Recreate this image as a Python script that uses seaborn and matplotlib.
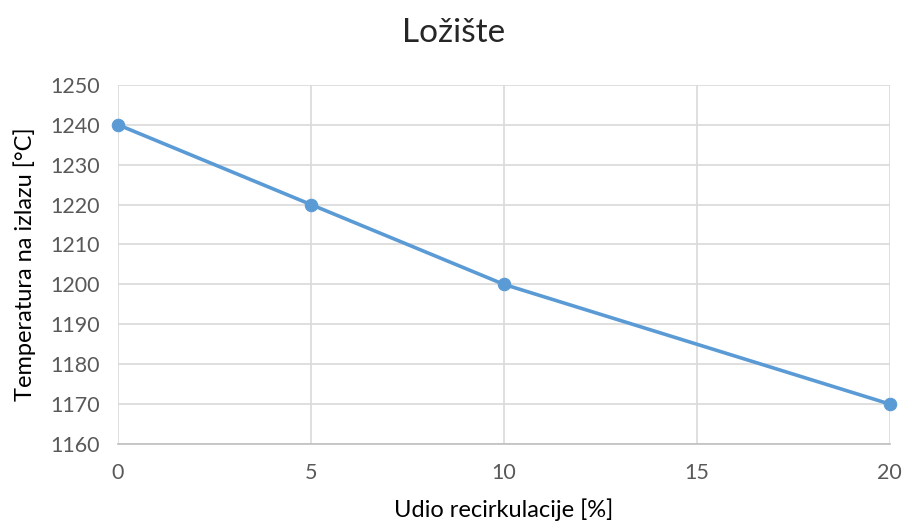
import matplotlib
matplotlib.use("Agg")
import matplotlib.pyplot as plt
import seaborn as sns
import pandas as pd

recirculation = [0, 5, 10, 20]
temperature = [1240, 1220, 1200, 1170]
x_ticks = [0, 5, 10, 15, 20]
y_ticks = [1160, 1170, 1180, 1190, 1200, 1210, 1220, 1230, 1240, 1250]

sns.set_style("white")
plt.rcParams['font.family'] = ['Lato', 'DejaVu Sans']

df = pd.DataFrame({"x": recirculation, "y": temperature})

fig = plt.figure(figsize=(9.08, 5.27), dpi=100)
ax = fig.add_axes([0.130, 0.1575, 0.850, 0.6815])

color = "#5B9BD5"
sns.lineplot(data=df, x="x", y="y", ax=ax, color=color, linewidth=2.6,
             marker="o", markersize=9, markeredgecolor=color, markerfacecolor=color, zorder=3, clip_on=False)

ax.set_xlim(0, 20)
ax.set_ylim(1160, 1250)
ax.set_xticks(x_ticks)
ax.set_yticks(y_ticks)
ax.grid(True, color="#D9D9D9", linewidth=1.2)
ax.set_axisbelow(True)
for s in ["top", "right", "left"]:
    ax.spines[s].set_visible(False)
ax.spines["bottom"].set_color("#BFBFBF")
ax.spines["bottom"].set_linewidth(1.2)
ax.tick_params(axis="both", length=0, labelsize=15.5, labelcolor="#595959")
ax.tick_params(axis="y", pad=13)
ax.tick_params(axis="x", pad=14)

ax.set_xlabel("Udio recirkulacije [%]", fontsize=17, color="black", labelpad=11)
ax.set_ylabel("Temperatura na izlazu [°C]", fontsize=17, color="black", labelpad=10)
fig.suptitle("Ložište", fontsize=24, y=0.965)

fig.savefig("out.png", dpi=100)
